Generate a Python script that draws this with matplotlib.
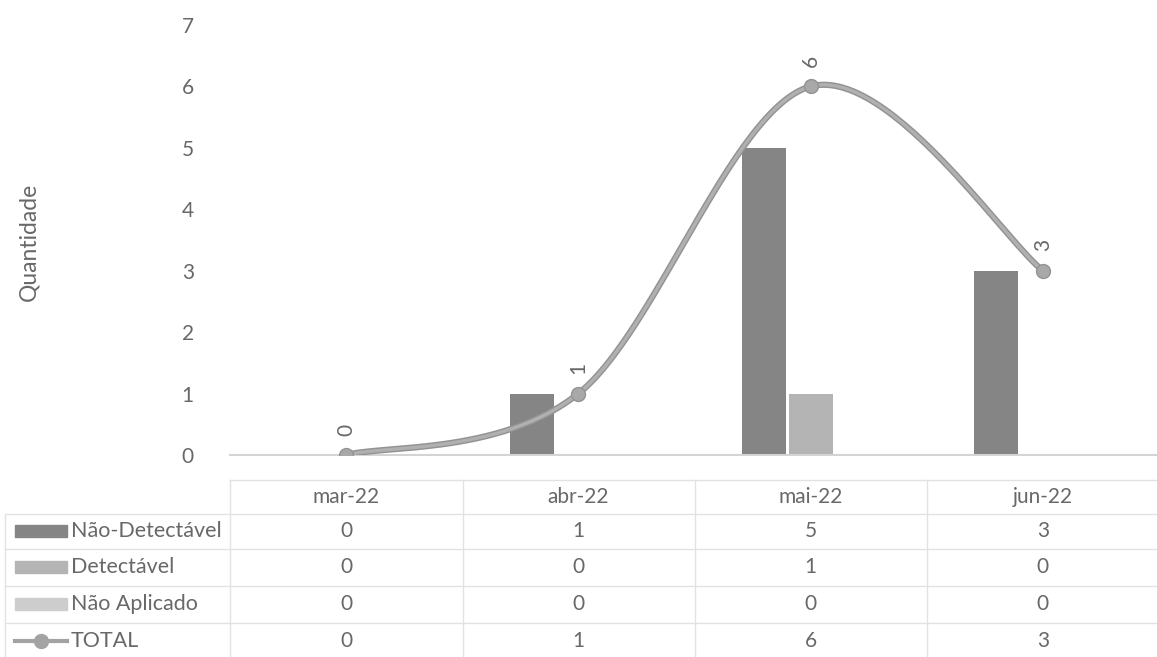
import matplotlib
matplotlib.use("Agg")
import matplotlib.pyplot as plt
import numpy as np
from matplotlib.transforms import blended_transform_factory
from matplotlib.patches import Rectangle
from matplotlib.lines import Line2D

categories = ["mar-22", "abr-22", "mai-22", "jun-22"]
nao_detectavel = [0, 1, 5, 3]
detectavel = [0, 0, 1, 0]
nao_aplicado = [0, 0, 0, 0]
total = [0, 1, 6, 3]
series_names = ["Não-Detectável", "Detectável", "Não Aplicado", "TOTAL"]
yticks = [0, 1, 2, 3, 4, 5, 6, 7]

c_nd = "#858585"
c_d = "#b4b4b4"
c_na = "#cdcdcd"
c_tot = "#a3a3a3"
txt = "#686868"

plt.rcParams['font.family'] = ['Lato', 'DejaVu Sans']
FS = 15

W, H = 1157, 657
fig = plt.figure(figsize=(W / 100, H / 100), dpi=100)
ax = fig.add_axes([230 / W, 1 - 455 / H, 929 / W, 430 / H])

x = np.arange(len(categories))
bw = 0.19
off = 0.2
ax.bar(x - off, nao_detectavel, bw, color=c_nd, zorder=2)
ax.bar(x, detectavel, bw, color=c_d, zorder=2)
ax.bar(x + off, nao_aplicado, bw, color=c_na, zorder=2)

# Excel-style smoothed line (Bezier with Catmull-Rom control points)
pts = np.column_stack([x, np.array(total, dtype=float)])
n = len(pts)
curve = []
t = np.linspace(0, 1, 60)
for i in range(n - 1):
    p0 = pts[i]
    p3 = pts[i + 1]
    pm = pts[i - 1] if i > 0 else pts[i]
    pp = pts[i + 2] if i + 2 < n else pts[i + 1]
    c1 = p0 + (p3 - pm) / 6
    c2 = p3 - (pp - p0) / 6
    seg = ((1 - t) ** 3)[:, None] * p0 + (3 * (1 - t) ** 2 * t)[:, None] * c1 \
        + (3 * (1 - t) * t ** 2)[:, None] * c2 + (t ** 3)[:, None] * p3
    curve.append(seg)
curve = np.vstack(curve)
ax.plot(curve[:, 0], curve[:, 1], color="#939393", lw=4.5, zorder=3, solid_capstyle='round')
ax.plot(curve[:, 0], curve[:, 1], color="#b0b0b0", lw=2.4, zorder=3, solid_capstyle='round')
ax.plot(x, total, 'o', color="#a8a8a8", mec="#939393", ms=10, zorder=4)
for xi, v in zip(x, total):
    ax.annotate(str(v), (xi, v), xytext=(0, 14), textcoords='offset points',
                rotation=90, ha='center', va='bottom', color=txt, fontsize=FS)

ax.set_xlim(-0.5, len(categories) - 0.5)
ax.set_ylim(0, 7)
ax.set_yticks(yticks)
ax.tick_params(axis='y', length=0, labelsize=FS, labelcolor=txt, pad=26)
ax.set_xticks([])
for s in ['top', 'right', 'left']:
    ax.spines[s].set_visible(False)
ax.spines['bottom'].set_color('#d4d4d4')
ax.spines['bottom'].set_linewidth(1.5)
fig.text(29 / W, 1 - 242 / H, "Quantidade", rotation=90, ha='center', va='center',
         color=txt, fontsize=16.5)

# Data table
tr = blended_transform_factory(ax.transData, fig.transFigure)
def fy(py):
    return 1 - py / H

line_c = "#e2e2e2"
header_y = 497
row_ys = [531, 567, 604, 641]
hlines = [514, 549, 586, 623]
fig.add_artist(Line2D([230 / W, 1], [fy(480), fy(480)], color=line_c, lw=1))
for hy in hlines:
    fig.add_artist(Line2D([5 / W, 1], [fy(hy), fy(hy)], color=line_c, lw=1))
for vx in [230, 463, 695, 927]:
    fig.add_artist(Line2D([vx / W, vx / W], [fy(480), 0], color=line_c, lw=1))
fig.add_artist(Line2D([5 / W, 5 / W], [fy(514), 0], color=line_c, lw=1))

for xi, c in zip(x, categories):
    ax.text(xi, fy(header_y), c, transform=tr, ha='center', va='center', color=txt, fontsize=FS)

rows = [nao_detectavel, detectavel, nao_aplicado, total]
for ry, vals in zip(row_ys, rows):
    for xi, v in zip(x, vals):
        ax.text(xi, fy(ry), str(v), transform=tr, ha='center', va='center', color=txt, fontsize=FS)

key_colors = [c_nd, c_d, c_na]
for ry, name, kc in zip(row_ys[:3], series_names[:3], key_colors):
    fig.add_artist(Rectangle((15 / W, fy(ry + 6)), 52 / W, 12 / H, color=kc,
                             transform=fig.transFigure))
    fig.text(71 / W, fy(ry), name, ha='left', va='center', color=txt, fontsize=FS + 0.5)
ty = row_ys[3]
fig.add_artist(Line2D([15 / W, 67 / W], [fy(ty), fy(ty)], color=c_tot, lw=3))
fig.add_artist(Line2D([41 / W], [fy(ty)], marker='o', ms=10, color=c_tot))
fig.text(71 / W, fy(ty), series_names[3], ha='left', va='center', color=txt, fontsize=FS + 0.5)

fig.savefig("out.png", dpi=100, facecolor='white')
